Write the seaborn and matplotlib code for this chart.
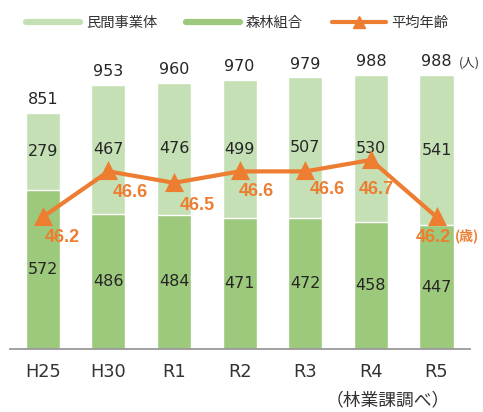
import matplotlib
matplotlib.use("Agg")
import matplotlib.pyplot as plt
from matplotlib.lines import Line2D
import seaborn as sns

# Survey years and worker counts (people)
years = ["H25", "H30", "R1", "R2", "R3", "R4", "R5"]
private = [279, 467, 476, 499, 507, 530, 541]      # 民間事業体
union = [572, 486, 484, 471, 472, 458, 447]        # 森林組合
total = [851, 953, 960, 970, 979, 988, 988]
avg_age = [46.2, 46.6, 46.5, 46.6, 46.6, 46.7, 46.2]  # 平均年齢 (歳)

# Label offsets (points) for the age annotations
age_offsets = [(14, -15), (16, -15), (17, -16.5), (12, -14.5),
               (16, -13), (4, -21.5), (-2.5, -14.5)]

LIGHT = "#C5E0B4"
DARK = "#9DC97C"
ORANGE = "#ED7D31"
TEXT = "#262626"

sns.set_style("white")
plt.rcParams["font.family"] = ["DejaVu Sans", "Noto Sans CJK JP"]

W, H = 483, 412
fig = plt.figure(figsize=(W / 100, H / 100), dpi=100)
ax = fig.add_axes([10 / W, 63 / H, 460 / W, 289 / H])

sns.barplot(x=years, y=total, color=LIGHT, width=0.52, saturation=1,
            ax=ax, errorbar=None)
sns.barplot(x=years, y=union, color=DARK, width=0.52, saturation=1,
            ax=ax, errorbar=None)

ax.set_ylim(0, 1042)
ax.set_xlim(-0.5, 6.51)
ax.set_yticks([])
ax.set_ylabel("")
ax.set_xlabel("")
for side in ("left", "right", "top"):
    ax.spines[side].set_visible(False)
ax.spines["bottom"].set_color("#999999")
ax.spines["bottom"].set_linewidth(1.3)
ax.tick_params(axis="x", length=0, pad=10, labelsize=12.8, labelcolor="#333333")

for i, (p, u, t) in enumerate(zip(private, union, total)):
    ax.text(i, u / 2, str(u), ha="center", va="center", fontsize=11.5, color=TEXT)
    ax.text(i, u + p / 2, str(p), ha="center", va="center", fontsize=11.5, color=TEXT)
    ax.annotate(str(t), (i, t), xytext=(0, 9.5), textcoords="offset points",
                ha="center", va="center", fontsize=11.5, color=TEXT)

# Average age on a secondary scale
ax2 = ax.twinx()
sns.pointplot(x=years, y=avg_age, ax=ax2, color=ORANGE, markers="^",
              errorbar=None, markersize=10, linewidth=3)
ax2.set_ylim(45.042, 47.577)
ax2.set_xlim(-0.5, 6.51)
ax2.set_yticks([])
ax2.set_ylabel("")
ax2.set_xlabel("")
for side in ("left", "right", "top", "bottom"):
    ax2.spines[side].set_visible(False)
ax2.tick_params(axis="x", length=0, labelbottom=False)

bold_family = ["Liberation Sans", "Noto Sans CJK JP"]
for i, (a, off) in enumerate(zip(avg_age, age_offsets)):
    ax2.annotate(f"{a:.1f}", (i, a), xytext=off, textcoords="offset points",
                 ha="center", va="center", fontsize=13, fontweight="bold",
                 color=ORANGE, family=bold_family)
ax2.annotate("(歳)", (len(years) - 1, avg_age[-1]), xytext=(13, -13.5),
             textcoords="offset points", ha="left", va="center", fontsize=10,
             fontweight="bold", color=ORANGE, family=["Noto Sans CJK JP"])

# Unit and source notes
fig.text(480 / W, 1 - 63 / H, "(人)", ha="right", va="center",
         fontsize=9, color="#333333", family=["Noto Sans CJK JP"])
fig.text(388 / W, 1 - 400 / H, "（林業課調べ）", ha="center", va="center",
         fontsize=12.8, color="#333333")

handles = [
    Line2D([], [], color=LIGHT, lw=4.5),
    Line2D([], [], color=DARK, lw=4.5),
    Line2D([], [], color=ORANGE, lw=3, marker="^", markersize=9),
]
fig.legend(handles, ["民間事業体", "森林組合", "平均年齢"], loc="center left",
           bbox_to_anchor=(26 / W, 1 - 23 / H), ncol=3, frameon=False,
           fontsize=10.3, handlelength=3.8, handletextpad=0.4, columnspacing=2.0,
           borderaxespad=0, borderpad=0, labelcolor="#333333")

fig.savefig("out.png", dpi=100, facecolor="white")
